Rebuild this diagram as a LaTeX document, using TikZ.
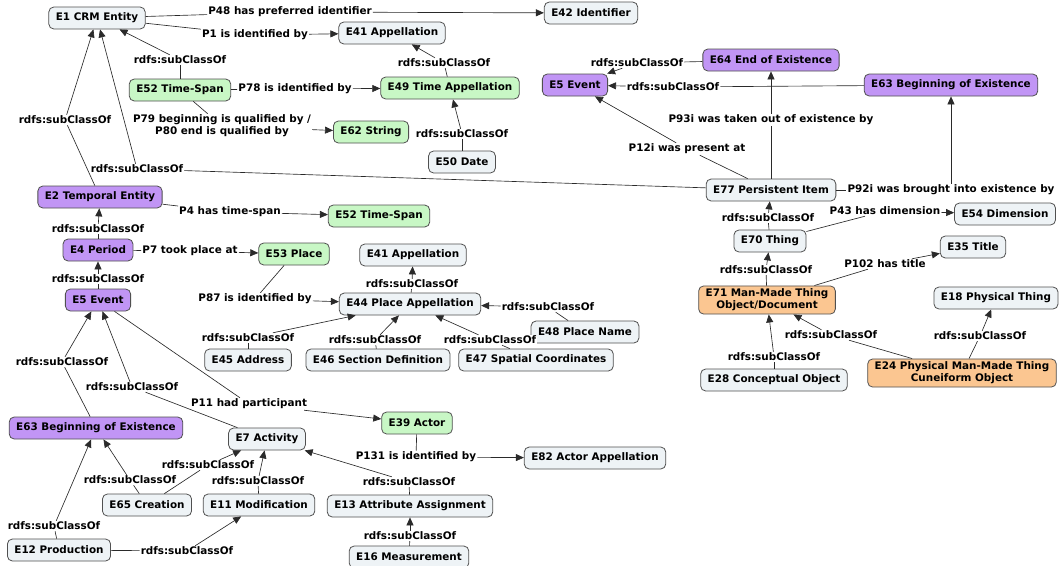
\documentclass[tikz,border=0pt]{standalone}
\usepackage{fontspec}
\setmainfont{DejaVu Sans}
\usetikzlibrary{arrows.meta}
\definecolor{cgray}{HTML}{EEF3F6}
\definecolor{cgreen}{HTML}{C8F7C5}
\definecolor{cpurple}{HTML}{C195F5}
\definecolor{corange}{HTML}{FBC691}
\definecolor{bordergray}{HTML}{505050}
\definecolor{linegray}{HTML}{2A2A2A}
\begin{document}
\begin{tikzpicture}[x=1pt,y=-1pt,
  every node/.style={font=\fontsize{10.4}{12}\selectfont\bfseries, text=black},
  concept/.style={draw=bordergray, line width=0.8pt, rounded corners=5pt, fill=cgray, inner xsep=7pt, inner ysep=3pt, minimum height=22pt, align=center},
  cgr/.style={concept, fill=cgreen},
  cpu/.style={concept, fill=cpurple},
  cor/.style={concept, fill=corange},
  lbl/.style={fill=white, inner sep=1pt, align=center},
  ln/.style={draw=linegray, line width=0.65pt},
  arr/.style={ln, -{Triangle[length=8pt,width=7pt]}}
]
\useasboundingbox (0,0) rectangle (1060,565);

% concepts
\node[concept] (E1) at (97,18) {E1 CRM Entity};
\node[concept] (E42) at (591,13) {E42 Identifier};
\node[concept] (E41a) at (392,33) {E41 Appellation};
\node[cgr] (E52a) at (180,90) {E52 Time-Span};
\node[cgr] (E49) at (450,88) {E49 Time Appellation};
\node[cgr] (E62) at (371,132) {E62 String};
\node[concept] (E50) at (462,162) {E50 Date};
\node[cpu] (E64) at (771,60) {E64 End of Existence};
\node[cpu] (E5a) at (575,85) {E5 Event};
\node[cpu] (E63a) at (951,85) {E63 Beginning of Existence};
\node[concept] (E77) at (771,190) {E77 Persistent Item};
\node[cpu] (E2) at (100,197) {E2 Temporal Entity};
\node[cgr] (E52b) at (379,216) {E52 Time-Span};
\node[concept] (E54) at (1005,214) {E54 Dimension};
\node[cpu] (E4) at (98,250) {E4 Period};
\node[cgr] (E53) at (294,254) {E53 Place};
\node[concept] (E70) at (770,241) {E70 Thing};
\node[concept] (E35) at (973,247) {E35 Title};
\node[concept] (E41b) at (413,255) {E41 Appellation};
\node[cpu] (E5b) at (98,300) {E5 Event};
\node[concept] (E44) at (410,304) {E44 Place Appellation};
\node[concept] (E48) at (585,332) {E48 Place Name};
\node[concept] (E45) at (248,360) {E45 Address};
\node[concept] (E46) at (378,360) {E46 Section Definition};
\node[concept] (E47) at (536,360) {E47 Spatial Coordinates};
\node[cor] (E71) at (767,300) {E71 Man-Made Thing\\Object/Document};
\node[concept] (E18) at (996,298) {E18 Physical Thing};
\node[concept] (E28) at (774,380) {E28 Conceptual Object};
\node[cor] (E24) at (962,373) {E24 Physical Man-Made Thing\\Cuneiform Object};
\node[cpu] (E63b) at (96,428) {E63 Beginning of Existence};
\node[cgr] (E39) at (417,423) {E39 Actor};
\node[concept] (E7) at (267,439) {E7 Activity};
\node[concept] (E82) at (595,458) {E82 Actor Appellation};
\node[concept] (E65) at (147,505) {E65 Creation};
\node[concept] (E11) at (259,505) {E11 Modification};
\node[concept] (E13) at (410,506) {E13 Attribute Assignment};
\node[concept] (E12) at (59,550) {E12 Production};
\node[concept] (E16) at (409,557) {E16 Measurement};

% labels
\node[lbl] (L1) at (290,12) {P48 has preferred identifier};
\node[lbl] (L2) at (255,35) {P1 is identified by};
\node[lbl] (L3) at (180,60) {rdfs:subClassOf};
\node[lbl] (L4) at (295,89) {P78 is identified by};
\node[lbl] (L5) at (444,63) {rdfs:subClassOf};
\node[lbl] (L6) at (222,126) {P79 beginning is qualified by /\\P80 end is qualified by};
\node[lbl] (L7) at (462,134) {rdfs:subClassOf};
\node[lbl] (L8) at (65,120) {rdfs:subClassOf};
\node[lbl] (L9) at (137,169) {rdfs:subClassOf};
\node[lbl] (L10) at (230,212) {P4 has time-span};
\node[lbl] (L11) at (98,229) {rdfs:subClassOf};
\node[lbl] (L12) at (190,251) {P7 took place at};
\node[lbl] (L13) at (98,279) {rdfs:subClassOf};
\node[lbl] (L14) at (255,299) {P87 is identified by};
\node[lbl] (L15) at (412,284) {rdfs:subClassOf};
\node[lbl] (L16) at (548,307) {rdfs:subClassOf};
\node[lbl] (L17) at (248,338) {rdfs:subClassOf};
\node[lbl] (L18) at (375,340) {rdfs:subClassOf};
\node[lbl] (L19) at (490,340) {rdfs:subClassOf};
\node[lbl] (L20) at (637,63) {rdfs:subClassOf};
\node[lbl] (L21) at (673,87) {rdfs:subClassOf};
\node[lbl] (L22) at (771,120) {P93i was taken out of existence by};
\node[lbl] (L23) at (687,149) {P12i was present at};
\node[lbl] (L24) at (951,190) {P92i was brought into existence by};
\node[lbl] (L25) at (768,218) {rdfs:subClassOf};
\node[lbl] (L26) at (885,211) {P43 has dimension};
\node[lbl] (L27) at (766,270) {rdfs:subClassOf};
\node[lbl] (L28) at (885,264) {P102 has title};
\node[lbl] (L29) at (774,357) {rdfs:subClassOf};
\node[lbl] (L30) at (831,335) {rdfs:subClassOf};
\node[lbl] (L31) at (980,336) {rdfs:subClassOf};
\node[lbl] (L32) at (62,362) {rdfs:subClassOf};
\node[lbl] (L33) at (132,387) {rdfs:subClassOf};
\node[lbl] (L34) at (249,404) {P11 had participant};
\node[lbl] (L35) at (208,465) {rdfs:subClassOf};
\node[lbl] (L36) at (130,480) {rdfs:subClassOf};
\node[lbl] (L37) at (258,481) {rdfs:subClassOf};
\node[lbl] (L38) at (54,526) {rdfs:subClassOf};
\node[lbl] (L39) at (187,551) {rdfs:subClassOf};
\node[lbl] (L40) at (416,457) {P131 is identified by};
\node[lbl] (L41) at (409,482) {rdfs:subClassOf};
\node[lbl] (L42) at (410,536) {rdfs:subClassOf};

% connectors
\draw[ln] (E1) -- (L1); \draw[arr] (L1) -- (E42);
\draw[ln] (E1) -- (L2); \draw[arr] (L2) -- (E41a);
\draw[ln] (E52a) -- (L3); \draw[arr] (L3) -- (E1);
\draw[ln] (E52a) -- (L4); \draw[arr] (L4) -- (E49);
\draw[ln] (E49) -- (L5); \draw[arr] (L5) -- (E41a);
\draw[ln] (E52a) -- (L6); \draw[arr] (L6) -- (E62);
\draw[ln] (E50) -- (L7); \draw[arr] (L7) -- (E49);
\draw[ln] (E2) -- (L8); \draw[arr] (L8) -- (E1);
\draw[ln] (E77) -- (L9); \draw[arr] (L9) -- (E1);
\draw[ln] (E2) -- (L10); \draw[arr] (L10) -- (E52b);
\draw[ln] (E4) -- (L11); \draw[arr] (L11) -- (E2);
\draw[ln] (E4) -- (L12); \draw[arr] (L12) -- (E53);
\draw[ln] (E5b) -- (L13); \draw[arr] (L13) -- (E4);
\draw[ln] (E53) -- (L14); \draw[arr] (L14) -- (E44);
\draw[ln] (E44) -- (L15); \draw[arr] (L15) -- (E41b);
\draw[ln] (E48) -- (L16); \draw[arr] (L16) -- (E44);
\draw[ln] (E45) -- (L17); \draw[arr] (L17) -- (E44);
\draw[ln] (E46) -- (L18); \draw[arr] (L18) -- (E44);
\draw[ln] (E47) -- (L19); \draw[arr] (L19) -- (E44);
\draw[ln] (E64) -- (L20); \draw[arr] (L20) -- (E5a);
\draw[ln] (E63a) -- (L21); \draw[arr] (L21) -- (E5a);
\draw[ln] (E77) -- (L22); \draw[arr] (L22) -- (E64);
\draw[ln] (E77) -- (L23); \draw[arr] (L23) -- (E5a);
\draw[ln] (E77) -- (L24); \draw[arr] (L24) -- (E63a);
\draw[ln] (E70) -- (L25); \draw[arr] (L25) -- (E77);
\draw[ln] (E70) -- (L26); \draw[arr] (L26) -- (E54);
\draw[ln] (E71) -- (L27); \draw[arr] (L27) -- (E70);
\draw[ln] (E71) -- (L28); \draw[arr] (L28) -- (E35);
\draw[ln] (E28) -- (L29); \draw[arr] (L29) -- (E71);
\draw[ln] (E24) -- (L30); \draw[arr] (L30) -- (E71);
\draw[ln] (E24) -- (L31); \draw[arr] (L31) -- (E18);
\draw[ln] (E63b) -- (L32); \draw[arr] (L32) -- (E5b);
\draw[ln] (E7) -- (L33); \draw[arr] (L33) -- (E5b);
\draw[ln] (E5b) -- (L34); \draw[arr] (L34) -- (E39);
\draw[ln] (E65) -- (L35); \draw[arr] (L35) -- (E7);
\draw[ln] (E65) -- (L36); \draw[arr] (L36) -- (E63b);
\draw[ln] (E11) -- (L37); \draw[arr] (L37) -- (E7);
\draw[ln] (E12) -- (L38); \draw[arr] (L38) -- (E63b);
\draw[ln] (E12) -- (L39); \draw[arr] (L39) -- (E11);
\draw[ln] (E39) -- (L40); \draw[arr] (L40) -- (E82);
\draw[ln] (E13) -- (L41); \draw[arr] (L41) -- (E7);
\draw[ln] (E16) -- (L42); \draw[arr] (L42) -- (E13);
\end{tikzpicture}
\end{document}
